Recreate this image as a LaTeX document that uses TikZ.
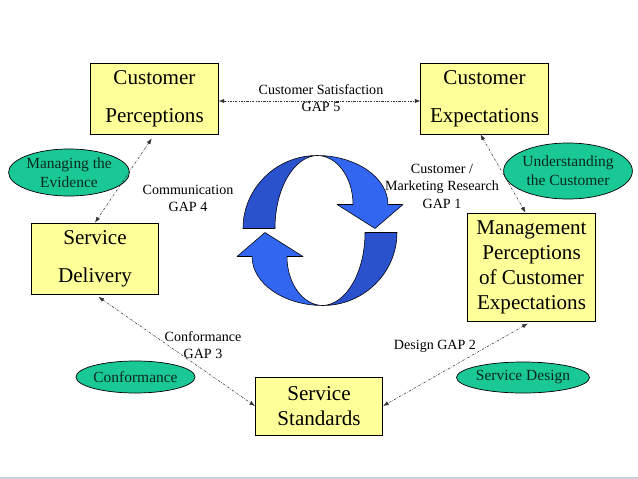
\documentclass[tikz,border=0pt]{standalone}
\usepackage{fontspec}
\setmainfont{Liberation Serif}
\usepackage{tikz}
\usetikzlibrary{shapes.geometric, arrows.meta, positioning, calc}
\definecolor{boxyellow}{RGB}{255,255,153}
\definecolor{ovalgreen}{RGB}{26,200,150}
\definecolor{ovaltext}{RGB}{10,40,30}
\definecolor{cyclefront}{RGB}{51,102,240}
\definecolor{cycleback}{RGB}{43,82,205}
\definecolor{rulegray}{RGB}{200,208,220}

\begin{document}
\begin{tikzpicture}[
        x=0.025cm, y=-0.025cm,
        box/.style={rectangle, draw=black, fill=boxyellow, line width=0.6pt,
                    minimum width=3.18cm, align=center, inner sep=0pt},
        oval/.style={ellipse, draw=black, fill=ovalgreen, line width=0.5pt,
                     inner sep=0pt, align=center, text=ovaltext,
                     font=\fontsize{11}{13.3}\selectfont},
        gaplabel/.style={align=center, font=\fontsize{10}{12.5}\selectfont},
        gapline/.style={{Latex[length=4pt,width=3pt]}-{Latex[length=4pt,width=3pt]},
                        line width=0.4pt, black!80,
                        dash pattern=on 1.6pt off 1pt on 0.4pt off 1pt},
        cyclearrow/.style={draw=black, line width=0.4pt, line join=round}
      ]
        \useasboundingbox (0,0) rectangle (638,479);
        \fill[rulegray] (0,476.5) rectangle (638,478.5);
        % Boxes
        \node[box, minimum height=1.775cm, font=\fontsize{15}{27}\selectfont]
          (perc) at (154.5, 98.5) {Customer\\Perceptions};
        \node[box, minimum height=1.775cm, font=\fontsize{15}{27}\selectfont]
          (expt) at (484.5, 98.5) {Customer\\Expectations};
        \node[box, minimum height=1.775cm, font=\fontsize{15}{27}\selectfont]
          (deliv) at (95, 258.5) {Service\\Delivery};
        \node[box, minimum height=2.7cm, font=\fontsize{15}{17.8}\selectfont]
          (mgmt) at (531.5, 267) {Management\\Perceptions\\of Customer\\Expectations};
        \node[box, minimum height=1.45cm, font=\fontsize{15}{17.8}\selectfont]
          (stand) at (319, 406) {Service\\Standards};
        % Ovals
        \node[oval, minimum width=2.65cm, minimum height=1.175cm]
          (evid) at (69, 172.5) {Managing the\\Evidence};
        \node[oval, minimum width=2.95cm, minimum height=1.4cm]
          (under) at (568, 171) {Understanding\\the Customer};
        \node[oval, minimum width=2.825cm, minimum height=0.8cm]
          (conf) at (135.5, 377) {Conformance};
        \node[oval, minimum width=3.05cm, minimum height=0.775cm]
          (sdes) at (523, 377.5) {Service Design};
        % Edges
        \draw[gapline] ($(perc.east)+(0,2.5)$) -- ($(expt.west)+(0,2.5)$);
        \draw[gapline, shorten <=3.5pt] (perc.south) -- (deliv.north);
        \draw[gapline] ($(expt.south)+(-4,0)$) -- ($(mgmt.north)+(-6,0)$);
        \draw[gapline, shorten <=3pt] (deliv.south) -- (stand.west);
        \draw[gapline, shorten <=3pt] (mgmt.south) -- (stand.east);
        % Edge labels
        \node[gaplabel] (gap5) at (321, 98) {Customer Satisfaction\\GAP 5};
        \node[gaplabel] (gap4) at (188, 198.5) {Communication\\GAP 4};
        \node[gaplabel] (gap1) at (442, 186) {Customer /\\Marketing Research\\GAP 1};
        \node[gaplabel] (gap3) at (203, 345) {Conformance\\GAP 3};
        \node[gaplabel] (gap2) at (435, 346) {Design GAP 2};
        % Cycle arrows
        \foreach \turn in {0,180}{
          \begin{scope}[shift={(320,230.5)}, yscale=-1, rotate=\turn]
            \draw[cyclearrow, fill=cycleback]
              (-77,2) .. controls (-77,42) and (-44,75) .. (-3,75)
              .. controls (-26,74) and (-45,42) .. (-45,2) -- cycle;
            \draw[cyclearrow, fill=cyclefront]
              (-3,75) .. controls (36,75) and (68,53) .. (68,26)
              -- (83,26) -- (55,2) -- (17,26) -- (33,26)
              .. controls (33,53) and (17,75) .. (-3,75) -- cycle;
          \end{scope}
        }
      \end{tikzpicture}
\end{document}
